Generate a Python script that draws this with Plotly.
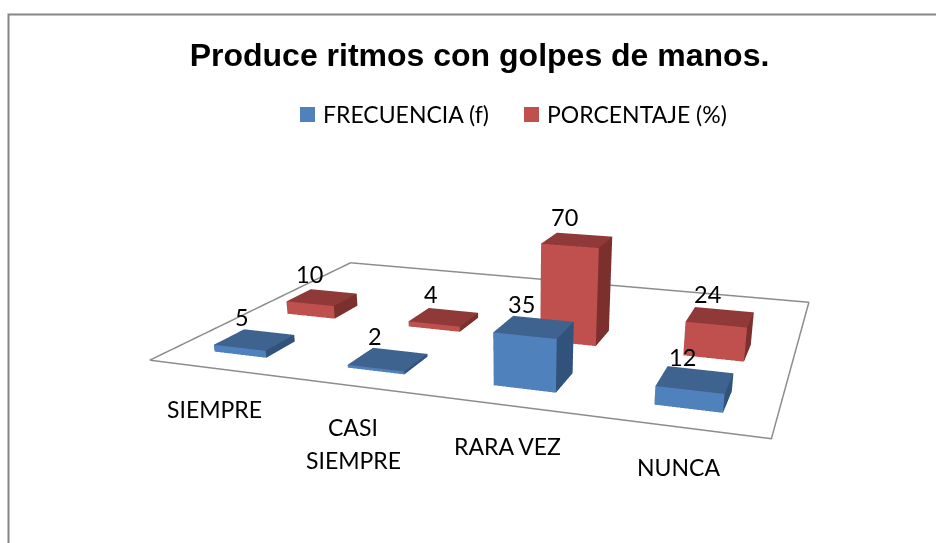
import plotly.graph_objects as go

categories = ["SIEMPRE", "CASI", "SIEMPRE", "RARA VEZ", "NUNCA"]
category_pixels = [(214.5, 409), (353, 427), (353, 460), (508, 446), (678, 467)]
frecuencia = [5, 2, 35, 12]
porcentaje = [10, 4, 70, 24]
series_names = ["FRECUENCIA (f)", "PORCENTAJE (%)"]

# Window and page size (the taller page gives the long lens the original has; the page is cropped by the window)
W, H = 936, 840
BAR_W, BAR_D = 0.1993, 0.1941
PX = 517.7021
EYE = dict(x=1.1616, y=-3.3006, z=0.9232)
CENTER = dict(x=0.1511, y=-0.3387, z=-0.3726)
UP = dict(x=-0.0071, y=0.0213, z=1.0)
ASPECT = dict(x=2.0, y=1.4126, z=0.3394)
BLUE = ["#4f81bd", "#3e638f", "#31527a"]
RED = ["#c0504d", "#8f3a38", "#7c302e"]
LABEL_FONT = "Lato"


def bars(vals, s, cols, name):
    xs, ys, zs, I, J, K, FC = [], [], [], [], [], [], []
    for n, v in enumerate(vals):
        b = len(xs)
        for zz in (0, v):
            for sx, sy in ((-1, -1), (1, -1), (1, 1), (-1, 1)):
                xs.append(n + .5 + sx * BAR_W)
                ys.append(s + .5 + sy * BAR_D)
                zs.append(zz)
        faces = [((0, 1, 5), 0), ((0, 5, 4), 0), ((4, 5, 6), 1), ((4, 6, 7), 1), ((1, 2, 6), 2), ((1, 6, 5), 2),
                 ((0, 3, 7), 2), ((0, 7, 4), 2), ((3, 2, 6), 2), ((3, 6, 7), 2)]
        for (a, c, d), col in faces:
            I.append(b + a)
            J.append(b + c)
            K.append(b + d)
            FC.append(cols[col])
    return go.Mesh3d(x=xs, y=ys, z=zs, i=I, j=J, k=K, facecolor=FC, color=cols[0], name=name, showlegend=False,
                     flatshading=True, hoverinfo="skip",
                     lighting=dict(ambient=1, diffuse=0, specular=0, roughness=1, fresnel=0))


fig = go.Figure()
fig.add_trace(go.Scatter3d(x=[0, 4, 4, 0, 0], y=[0, 0, 3, 3, 0], z=[0] * 5, mode="lines",
                           line=dict(color="#8c8c8c", width=3), showlegend=False, hoverinfo="skip"))
fig.add_trace(bars(frecuencia, 0, BLUE, series_names[0]))
fig.add_trace(bars(porcentaje, 1, RED, series_names[1]))

scene_ann = []
for s, vals in enumerate((frecuencia, porcentaje)):
    for n, v in enumerate(vals):
        scene_ann.append(dict(x=n + .5, y=s + .5, z=v, text=str(v), showarrow=False, xshift=-13, yshift=23,
                              font=dict(family=LABEL_FONT, size=23.5, color="black")))

ann = [dict(xref="paper", yref="paper", x=a / W, y=1 - b / H, text=t, showarrow=False, xanchor="center", yanchor="middle",
            font=dict(family=LABEL_FONT, size=23, color="black"))
       for t, (a, b) in zip(categories, category_pixels)]
shapes = [dict(type="path", xref="paper", yref="paper",
               path="M %f,0 L %f,%f L 1,%f" % (8.5 / W, 8.5 / W, 1 - 14.5 / H, 1 - 14.5 / H),
               line=dict(color="#868686", width=2))]
for name, col, x0 in zip(series_names, (BLUE[0], RED[0]), (300, 524)):
    shapes.append(dict(type="rect", xref="paper", yref="paper", x0=x0 / W, x1=(x0 + 15) / W,
                       y0=1 - 122 / H, y1=1 - 107 / H, fillcolor=col, line=dict(width=0)))
    ann.append(dict(xref="paper", yref="paper", x=(x0 + 20.5) / W, y=1 - 114 / H, text=name, showarrow=False,
                    xanchor="left", yanchor="middle", font=dict(family=LABEL_FONT, size=23, color="black")))

halfw = min(PX, W - PX)
fig.update_layout(
    width=W, height=H, margin=dict(l=0, r=0, t=0, b=0), paper_bgcolor="white", annotations=ann, shapes=shapes,
    showlegend=False,
    title=dict(text="<b>Produce ritmos con golpes de manos.</b>", x=479.5 / W, y=1 - 55 / H, xanchor="center", yanchor="middle",
               font=dict(family="Liberation Sans", size=32, color="black")),
    scene=dict(domain=dict(x=[(PX - halfw) / W, (PX + halfw) / W], y=[0, 1]),
               xaxis=dict(visible=False, range=[0, 4]), yaxis=dict(visible=False, range=[0, 3]),
               zaxis=dict(visible=False, range=[0, 70]), annotations=scene_ann,
               aspectmode="manual", aspectratio=ASPECT,
               camera=dict(eye=EYE, center=CENTER, up=UP, projection=dict(type="perspective"))),
)
fig.write_html("out.html", config=dict(displayModeBar=False),
               post_script="document.body.style.margin='0';document.body.style.overflow='hidden';document.documentElement.style.overflow='hidden';")
